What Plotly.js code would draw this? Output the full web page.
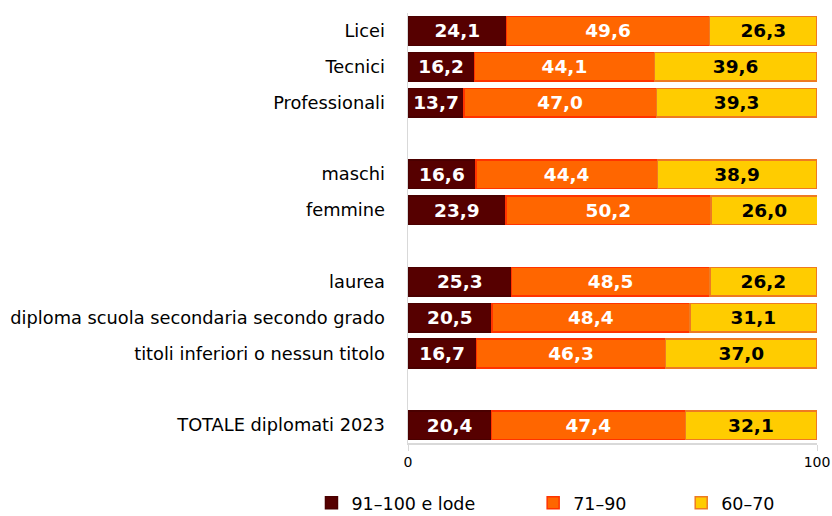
<!DOCTYPE html>
<html>
<head>
<meta charset="utf-8">
<script src="https://cdn.plot.ly/plotly-3.0.1.min.js"></script>
<style>html,body{margin:0;padding:0;background:#fff;}#chart{width:832px;height:516px;}</style>
</head>
<body>
<div id="chart"></div>
<script>
// Categories (spacers are blank rows between groups)
const categories = ["Licei", "Tecnici", "Professionali", " ",
  "maschi", "femmine", "  ",
  "laurea", "diploma scuola secondaria secondo grado", "titoli inferiori o nessun titolo", "   ",
  "TOTALE diplomati 2023"];
const seriesNames = ["91\u2013100 e lode", "71\u201390", "60\u201370"];
const votoAlto = [24.1, 16.2, 13.7, null, 16.6, 23.9, null, 25.3, 20.5, 16.7, null, 20.4];
const votoMedio = [49.6, 44.1, 47.0, null, 44.4, 50.2, null, 48.5, 48.4, 46.3, null, 47.4];
const votoBasso = [26.3, 39.6, 39.3, null, 38.9, 26.0, null, 26.2, 31.1, 37.0, null, 32.1];
const xTicks = [0, 100];

const fill = ["#560000", "#FF6600", "#FFCC00"];
const edge = ["#4a0000", "#FF3300", "#EE7A22"];
const txtCol = ["#ffffff", "#ffffff", "#000000"];
const FONT = "DejaVu Sans, sans-serif";

const fmt = v => v == null ? "" : v.toFixed(1).replace(".", ",");
const legendNames = ["legend", "legend2", "legend3"];

const traces = [votoAlto, votoMedio, votoBasso].map((vals, i) => ({
  type: "bar",
  orientation: "h",
  name: seriesNames[i],
  y: categories,
  x: vals,
  text: vals.map(fmt),
  textposition: "inside",
  insidetextanchor: "middle",
  textangle: 0,
  constraintext: "none",
  textfont: {family: FONT, size: 18.5, color: txtCol[i], weight: "bold"},
  marker: {color: fill[i], line: {color: edge[i], width: 1.5}},
  hoverinfo: "skip",
  legend: legendNames[i]
}));

const legBase = {orientation: "h", yanchor: "bottom", xanchor: "left",
  font: {family: FONT, size: 17.5, color: "#000"}, bgcolor: "rgba(0,0,0,0)", y: -0.181};

const layout = {
  width: 832, height: 516,
  margin: {l: 408, r: 15, t: 13, b: 73, autoexpand: false},
  paper_bgcolor: "#fff", plot_bgcolor: "#fff",
  barmode: "stack",
  bargap: 0.2,
  font: {family: FONT, color: "#000"},
  showlegend: true,
  legend: Object.assign({}, legBase, {x: -0.236}),
  legend2: Object.assign({}, legBase, {x: 0.306}),
  legend3: Object.assign({}, legBase, {x: 0.668}),
  xaxis: {
    range: [0, 100], tickvals: xTicks, ticktext: xTicks.map(String),
    showgrid: false, zeroline: false,
    showline: true, linecolor: "#D9D9D9", linewidth: 1.5,
    ticks: "outside", ticklen: 6, tickcolor: "#D9D9D9",
    tickfont: {family: FONT, size: 14, color: "#000"},
    fixedrange: true
  },
  yaxis: {
    type: "category", categoryorder: "array", categoryarray: categories,
    autorange: "reversed",
    showgrid: false, zeroline: false,
    showline: true, linecolor: "#D9D9D9", linewidth: 1.5,
    ticks: "", ticklabelstandoff: 18,
    tickfont: {family: FONT, size: 17.8, color: "#000"},
    fixedrange: true
  }
};

Plotly.newPlot("chart", traces, layout, {displayModeBar: false, staticPlot: true});
</script>
</body>
</html>
